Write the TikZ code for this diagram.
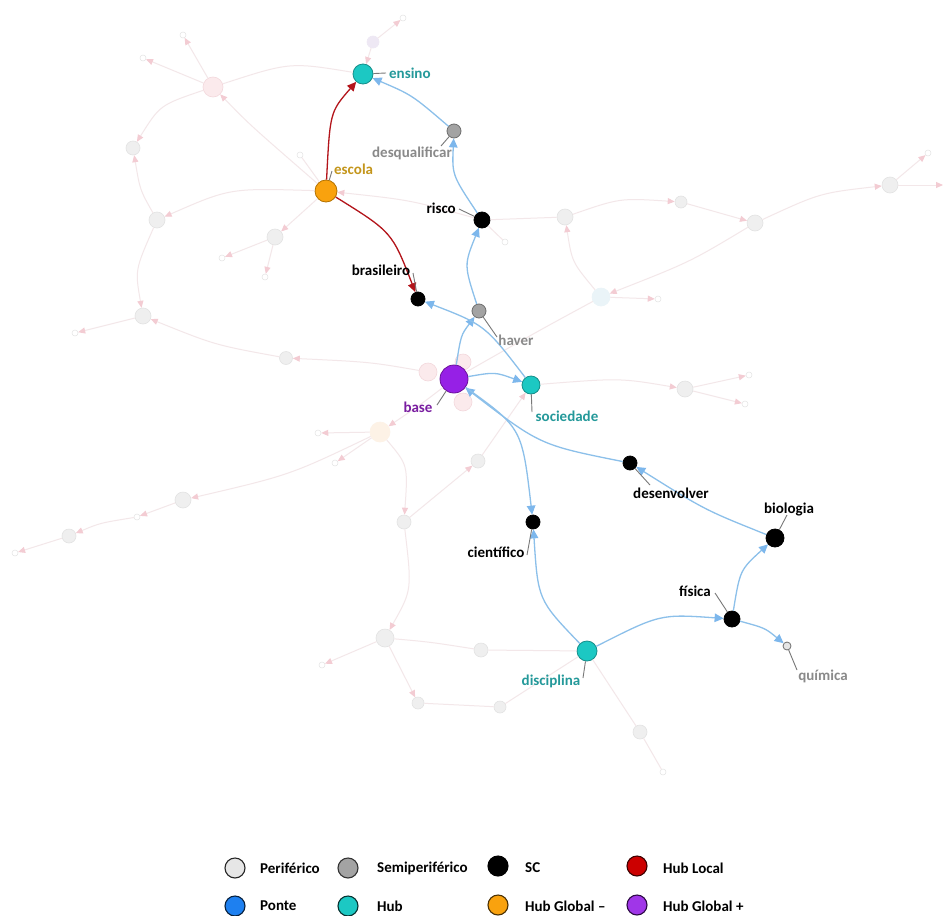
\documentclass[tikz,border=0pt]{standalone}
\usepackage{fontspec}
\setmainfont{Carlito}
\usetikzlibrary{arrows.meta}

% node fills
\definecolor{tealfill}{HTML}{1CC8C3}
\definecolor{tealline}{HTML}{168E8A}
\definecolor{tealtext}{HTML}{24999A}
\definecolor{orangefill}{HTML}{F9A20E}
\definecolor{orangeline}{HTML}{B37200}
\definecolor{goldtext}{HTML}{C4961C}
\definecolor{purplefill}{HTML}{9620E6}
\definecolor{purpleline}{HTML}{6B1199}
\definecolor{purpletext}{HTML}{7A1EA1}
\definecolor{semifill}{HTML}{A3A3A3}
\definecolor{semiline}{HTML}{6E6E6E}
\definecolor{graytext}{HTML}{8A8A8A}
\definecolor{blueedge}{HTML}{8CC0EA}
\definecolor{bluetip}{HTML}{7DB7EC}
\definecolor{rededge}{HTML}{B3141A}
\definecolor{leadercol}{HTML}{787878}
\definecolor{periffill}{HTML}{E6E6E6}
\definecolor{pontefill}{HTML}{1E80F0}
\definecolor{localfill}{HTML}{CC0000}
% faded background network
\definecolor{fadeedge}{HTML}{F3E7E9}
\definecolor{fadetip}{HTML}{F3CCD3}
\definecolor{fadegray}{HTML}{EFEFEF}
\definecolor{fadegrayline}{HTML}{E3E3E3}
\definecolor{fadepink}{HTML}{FBEAEC}
\definecolor{fadepinkline}{HTML}{F3D8DC}
\definecolor{fadeorange}{HTML}{FDF2E6}
\definecolor{fadeblue}{HTML}{EAF4F8}
\definecolor{fadepurple}{HTML}{EEE8F4}

\tikzset{
  vtx/.style={circle, inner sep=0pt, line width=0.8pt, minimum size=#1},
  hubv/.style={vtx=#1, fill=tealfill, draw=tealline},
  orangev/.style={vtx=#1, fill=orangefill, draw=orangeline},
  purplev/.style={vtx=#1, fill=purplefill, draw=purpleline},
  semiv/.style={vtx=#1, fill=semifill, draw=semiline},
  scv/.style={vtx=#1, fill=black, draw=black},
  lbl/.style={font=\bfseries\fontsize{15}{15}\selectfont, inner sep=0pt},
  blueconn/.style={draw=blueedge, line width=1.3pt,
    -{Triangle[length=9pt,width=8.5pt,fill=bluetip,color=bluetip]}},
  redconn/.style={draw=rededge, line width=1.3pt,
    -{Triangle[length=9pt,width=8.5pt,fill=rededge,color=rededge]}},
  leader/.style={draw=leadercol, line width=0.9pt},
  fv/.style={circle, inner sep=0pt, line width=0.6pt, minimum size=#1,
    fill=fadegray, draw=fadegrayline},
  fsmall/.style={circle, inner sep=0pt, line width=0.5pt, minimum size=6pt,
    fill=white, draw=fadegrayline},
  fconn/.style={draw=fadeedge, line width=1pt,
    -{Triangle[length=7pt,width=6pt,fill=fadetip,color=fadetip]}},
  fline/.style={draw=fadeedge, line width=1pt},
  legv/.style={circle, inner sep=0pt, minimum size=20pt, line width=1.1pt},
  legtxt/.style={font=\bfseries\fontsize{15}{15}\selectfont, inner sep=0pt, anchor=west},
}

\begin{document}
\begin{tikzpicture}[x=1pt, y=-1pt]
\path[use as bounding box, fill=white] (0,0) rectangle (943,916);

% ---------- faded background vertices ----------
\node[fv=20pt, fill=fadepink, draw=fadepinkline] (fa) at (213,87) {};
\node[fsmall] (fb) at (183,35) {};
\node[fsmall] (fc) at (143,58) {};
\node[fv=12pt, fill=fadepurple, draw=fadepurple] (fd) at (373,42) {};
\node[fsmall] (fe) at (403,18) {};
\node[fv=14pt] (ff) at (133,148) {};
\node[fv=16pt] (fg) at (157,220) {};
\node[fsmall] (fh) at (300,155) {};
\node[fv=16pt] (fi) at (275,237) {};
\node[fsmall] (fj) at (222,258) {};
\node[fsmall] (fk) at (265,277) {};
\node[fv=16pt] (fl) at (143,316) {};
\node[fsmall] (fm) at (75,333) {};
\node[fv=13pt] (fn) at (286,358) {};
\node[fv=18pt, fill=fadepink, draw=fadepinkline] (fo) at (428,372) {};
\node[fv=16pt, fill=fadepink, draw=fadepinkline] (fp) at (463,362) {};
\node[fv=18pt, fill=fadepink, draw=fadepinkline] (fq) at (463,402) {};
\node[fv=16pt] (fr) at (565,217) {};
\node[fv=12pt] (fs) at (681,202) {};
\node[fv=16pt] (ft) at (755,223) {};
\node[fv=16pt] (fu) at (890,185) {};
\node[fsmall] (fvv) at (928,153) {};
\coordinate (fedge) at (943,185);
\node[fv=18pt, fill=fadeblue, draw=fadeblue] (fw) at (601,297) {};
\node[fsmall] (fx) at (658,299) {};
\node[fsmall] (fy) at (505,242) {};
\node[fv=16pt] (fz) at (685,389) {};
\node[fsmall] (gA) at (749,375) {};
\node[fsmall] (gB) at (745,404) {};
\node[fv=20pt, fill=fadeorange, draw=fadeorange] (gC) at (380,432) {};
\node[fsmall] (gD) at (318,433) {};
\node[fsmall] (gE) at (335,463) {};
\node[fv=16pt] (gF) at (183,500) {};
\node[fsmall] (gG) at (137,517) {};
\node[fv=14pt] (gH) at (69,536) {};
\node[fsmall] (gI) at (15,553) {};
\node[fv=14pt] (gJ) at (404,522) {};
\node[fv=14pt] (gK) at (478,461) {};
\node[fv=18pt] (gL) at (385,638) {};
\node[fsmall] (gM) at (322,665) {};
\node[fv=14pt] (gN) at (481,650) {};
\node[fv=12pt] (gO) at (418,703) {};
\node[fv=12pt] (gP) at (500,707) {};
\node[fv=14pt] (gR) at (640,732) {};
\node[fsmall] (gS) at (663,772) {};

% ---------- main vertices ----------
\node[hubv=20pt] (ensino) at (363,74) {};
\node[semiv=14pt] (desq) at (454,131) {};
\node[orangev=22pt] (escola) at (326,191) {};
\node[scv=16pt] (risco) at (482,220) {};
\node[scv=14pt] (bras) at (418,299) {};
\node[semiv=14pt] (haver) at (479,311) {};
\node[purplev=28pt] (base) at (454,379) {};
\node[hubv=18pt] (soc) at (531,385) {};
\node[scv=14pt] (desenv) at (630,463) {};
\node[scv=14pt] (cient) at (533,522) {};
\node[scv=18pt] (bio) at (775,538) {};
\node[scv=16pt] (fis) at (732,619) {};
\node[vtx=8pt, fill=periffill, draw=semiline] (quim) at (787,646) {};
\node[hubv=20pt] (disc) at (587,651) {};

% ---------- faded background connectors ----------
\draw[fline] (fa) .. controls (290,62) .. (ensino);
\draw[fconn] (fa) -- (fc);
\draw[fconn] (fa) -- (fb);
\draw[fconn] (escola) .. controls (250,125) .. (fa);
\draw[fconn] (fa) .. controls (160,105) .. (ff);
\draw[fconn] (fg) .. controls (140,190) .. (ff);
\draw[fconn] (escola) .. controls (230,188) .. (fg);
\draw[fconn] (fg) .. controls (135,270) .. (fl);
\draw[fconn] (fl) -- (fm);
\draw[fconn] (fn) .. controls (215,345) .. (fl);
\draw[fconn] (fo) .. controls (370,362) .. (fn);
\draw[fconn] (escola) -- (fi);
\draw[fconn] (fi) -- (fj);
\draw[fconn] (fi) -- (fk);
\draw[fline] (escola) -- (fh);
\draw[fconn] (fd) -- (ensino);
\draw[fconn] (fd) -- (fe);
\draw[fconn] (risco) .. controls (410,200) .. (escola);
\draw[fline] (risco) -- (fr);
\draw[fconn] (fr) .. controls (620,198) .. (fs);
\draw[fconn] (fs) -- (ft);
\draw[fconn] (ft) .. controls (820,193) .. (fu);
\draw[fconn] (fu) -- (fvv);
\draw[fconn] (fu) -- (fedge);
\draw[fconn] (ft) .. controls (690,262) .. (fw);
\draw[fconn] (fw) .. controls (572,262) .. (fr);
\draw[fconn] (fw) -- (fx);
\draw[fline] (base) .. controls (540,330) .. (fw);
\draw[fline] (risco) -- (fy);
\draw[fconn] (soc) .. controls (620,378) .. (fz);
\draw[fconn] (fz) -- (gA);
\draw[fconn] (fz) -- (gB);
\draw[fconn] (base) .. controls (420,405) .. (gC);
\draw[fconn] (gC) -- (gD);
\draw[fconn] (gC) -- (gE);
\draw[fconn] (gC) .. controls (290,475) .. (gF);
\draw[fconn] (gF) -- (gG);
\draw[fconn] (gG) .. controls (100,523) .. (gH);
\draw[fconn] (gH) -- (gI);
\draw[fconn] (gC) .. controls (408,465) .. (gJ);
\draw[fconn] (gJ) .. controls (412,590) .. (gL);
\draw[fconn] (gJ) -- (gK);
\draw[fconn] (gK) -- (soc);
\draw[fconn] (gL) -- (gM);
\draw[fline] (gN) .. controls (430,642) .. (gL);
\draw[fconn] (gL) -- (gO);
\draw[fline] (gO) -- (gP);
\draw[fline] (disc) -- (gN);
\draw[fline] (disc) -- (gP);
\draw[fline] (disc) -- (gR);
\draw[fline] (gR) -- (gS);

% ---------- main connectors ----------
\draw[redconn] (escola) .. controls (330,112) .. (ensino);
\draw[redconn] (escola) .. controls (392,232) .. (bras);
\draw[blueconn] (desq) .. controls (412,95) .. (ensino);
\draw[blueconn] (risco) .. controls (452,175) .. (desq);
\draw[blueconn] (haver) .. controls (464,265) .. (risco);
\draw[blueconn] (base) .. controls (461,335) .. (haver);
\draw[blueconn] (soc) .. controls (485,325) .. (bras);
\draw[blueconn] (base) .. controls (495,372) .. (soc);
\draw[blueconn] (desenv) .. controls (540,445) .. (base);
\draw[blueconn] (base) .. controls (522,428) .. (cient);
\draw[blueconn] (disc) .. controls (538,600) .. (cient);
\draw[blueconn] (disc) .. controls (660,614) .. (fis);
\draw[blueconn] (fis) .. controls (740,570) .. (bio);
\draw[blueconn] (fis) .. controls (765,628) .. (quim);
\draw[blueconn] (bio) .. controls (705,510) .. (desenv);

% ---------- labels and leader lines ----------
\node[lbl, text=tealtext, anchor=west] (Lensino) at (389,73) {ensino};
\node[lbl, text=graytext] (Ldesq) at (412,153) {desqualificar};
\node[lbl, text=goldtext, anchor=west] (Lescola) at (334,169) {escola};
\node[lbl, text=black, anchor=east] (Lrisco) at (456,208) {risco};
\node[lbl, text=black] (Lbras) at (381,270) {brasileiro};
\node[lbl, text=graytext] (Lhaver) at (516,340) {haver};
\node[lbl, text=purpletext] (Lbase) at (418,407) {base};
\node[lbl, text=tealtext] (Lsoc) at (567,416) {sociedade};
\node[lbl, text=black] (Ldesenv) at (671,493) {desenvolver};
\node[lbl, text=black] (Lcient) at (496,552) {científico};
\node[lbl, text=black] (Lbio) at (789,510) {biologia};
\node[lbl, text=black] (Lfis) at (695,591) {física};
\node[lbl, text=graytext] (Lquim) at (823,676) {química};
\node[lbl, text=tealtext] (Ldisc) at (551,681) {disciplina};

\coordinate (kEnsino) at (386,73);
\coordinate (kDesq) at (441,146);
\coordinate (kEscola) at (332,171);
\coordinate (kRisco) at (459,209);
\coordinate (kBras) at (413,273);
\coordinate (kHaver) at (497,337);
\coordinate (kBase) at (437,405);
\coordinate (kSoc) at (532,412);
\coordinate (kDesenv) at (650,485);
\coordinate (kCient) at (527,555);
\coordinate (kBio) at (787,515);
\coordinate (kFis) at (715,593);
\coordinate (kQuim) at (797,670);
\coordinate (kDisc) at (583,678);

\draw[leader] (ensino) -- (kEnsino);
\draw[leader] (desq) -- (kDesq);
\draw[leader] (escola) -- (kEscola);
\draw[leader] (risco) -- (kRisco);
\draw[leader] (bras) -- (kBras);
\draw[leader] (haver) -- (kHaver);
\draw[leader] (base) -- (kBase);
\draw[leader] (soc) -- (kSoc);
\draw[leader] (desenv) -- (kDesenv);
\draw[leader] (cient) -- (kCient);
\draw[leader] (bio) -- (kBio);
\draw[leader] (fis) -- (kFis);
\draw[leader] (quim) -- (kQuim);
\draw[leader] (disc) -- (kDisc);

% ---------- legend ----------
\node[legv, fill=periffill, draw=black!85] (lg1) at (235,868) {};
\node[legtxt] (lt1) at (260,868) {Periférico};
\node[legv, fill=semifill, draw=black!80] (lg2) at (348,868) {};
\node[legtxt] (lt2) at (377,868) {Semiperiférico};
\node[legv, fill=black, draw=black] (lg3) at (498,866) {};
\node[legtxt] (lt3) at (525,868) {SC};
\node[legv, fill=localfill, draw=black!70!localfill] (lg4) at (637,866) {};
\node[legtxt] (lt4) at (663,868) {Hub Local};

\node[legv, fill=pontefill, draw=black!75!pontefill] (lg5) at (235,906) {};
\node[legtxt] (lt5) at (260,906) {Ponte};
\node[legv, fill=tealfill, draw=black!75!tealfill] (lg6) at (348,906) {};
\node[legtxt] (lt6) at (377,906) {Hub};
\node[legv, fill=orangefill, draw=black!70!orangefill] (lg7) at (498,905) {};
\node[legtxt] (lt7) at (525,906) {Hub Global –};
\node[legv, fill=purplefill!90!white, draw=black!70!purplefill] (lg8) at (637,905) {};
\node[legtxt] (lt8) at (663,906) {Hub Global +};
\end{tikzpicture}
\end{document}
